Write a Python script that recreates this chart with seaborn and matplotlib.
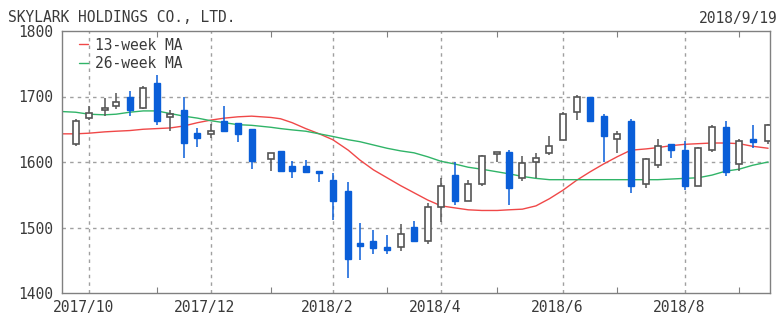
import matplotlib
matplotlib.use("Agg")
import matplotlib.pyplot as plt
import matplotlib.transforms as mtransforms
import numpy as np
import pandas as pd
import seaborn as sns

# ---------------- data ----------------
title = "SKYLARK HOLDINGS CO., LTD."
as_of = "2018/9/19"

# first trading day of each week
week_dates = [
    "2017-09-25", "2017-10-02", "2017-10-10", "2017-10-16", "2017-10-23", "2017-10-30",
    "2017-11-06", "2017-11-13", "2017-11-20", "2017-11-27", "2017-12-04", "2017-12-11",
    "2017-12-18", "2017-12-25", "2018-01-04", "2018-01-09", "2018-01-15", "2018-01-22",
    "2018-01-29", "2018-02-05", "2018-02-13", "2018-02-19", "2018-02-26", "2018-03-05",
    "2018-03-12", "2018-03-19", "2018-03-26", "2018-04-02", "2018-04-09", "2018-04-16",
    "2018-04-23", "2018-05-01", "2018-05-07", "2018-05-14", "2018-05-21", "2018-05-28",
    "2018-06-04", "2018-06-11", "2018-06-18", "2018-06-25", "2018-07-02", "2018-07-09",
    "2018-07-17", "2018-07-23", "2018-07-30", "2018-08-06", "2018-08-13", "2018-08-20",
    "2018-08-27", "2018-09-03", "2018-09-10", "2018-09-18",
]
opens = [1627, 1667, 1680, 1685, 1699, 1682, 1720, 1669, 1679, 1645, 1642, 1662, 1660,
         1651, 1605, 1617, 1594, 1594, 1586, 1573, 1555, 1477, 1480, 1470, 1470, 1500,
         1480, 1531, 1580, 1541, 1567, 1612, 1615, 1575, 1600, 1614, 1634, 1677, 1699,
         1670, 1635, 1662, 1567, 1596, 1628, 1618, 1564, 1618, 1653, 1597, 1635, 1632]
highs = [1666, 1686, 1697, 1706, 1708, 1716, 1733, 1679, 1699, 1652, 1658, 1686, 1660,
         1651, 1614, 1617, 1601, 1603, 1586, 1583, 1569, 1507, 1496, 1489, 1505, 1510,
         1537, 1575, 1600, 1573, 1611, 1616, 1618, 1609, 1614, 1640, 1676, 1703, 1699,
         1673, 1648, 1665, 1606, 1635, 1628, 1632, 1623, 1657, 1663, 1635, 1656, 1658]
lows = [1624, 1664, 1670, 1681, 1670, 1681, 1657, 1648, 1606, 1623, 1636, 1647, 1631,
        1590, 1587, 1587, 1575, 1583, 1569, 1511, 1423, 1451, 1459, 1460, 1464, 1479,
        1475, 1508, 1535, 1540, 1563, 1600, 1535, 1571, 1576, 1610, 1633, 1664, 1661,
        1600, 1613, 1552, 1560, 1591, 1606, 1557, 1563, 1615, 1579, 1586, 1622, 1628]
closes = [1662, 1675, 1682, 1692, 1679, 1713, 1662, 1674, 1629, 1637, 1648, 1647, 1643,
          1601, 1614, 1587, 1586, 1585, 1583, 1540, 1452, 1471, 1469, 1465, 1490, 1480,
          1531, 1563, 1540, 1566, 1609, 1615, 1560, 1598, 1606, 1625, 1673, 1699, 1662,
          1639, 1643, 1563, 1604, 1624, 1618, 1563, 1621, 1653, 1585, 1632, 1631, 1656]

ma_dates = ["2017-09-18"] + week_dates
ma13 = [1643, 1643, 1644, 1646, 1647, 1648, 1650, 1651, 1652, 1655, 1660, 1664, 1667,
        1669, 1670, 1668, 1666, 1660, 1651, 1643, 1634, 1618, 1603, 1588, 1576, 1564,
        1553, 1542, 1533, 1530, 1527, 1526, 1526, 1527, 1528, 1533, 1544, 1557, 1572,
        1585, 1597, 1608, 1618, 1620, 1622, 1625, 1627, 1628, 1629, 1629, 1628, 1624, 1621]
ma26 = [1677, 1676, 1673, 1672, 1673, 1676, 1678, 1678, 1674, 1670, 1667, 1663, 1660,
        1657, 1656, 1653, 1651, 1649, 1647, 1643, 1639, 1634, 1631, 1626, 1621, 1617,
        1614, 1608, 1601, 1597, 1592, 1589, 1585, 1582, 1578, 1575, 1573, 1573, 1573,
        1573, 1573, 1573, 1573, 1573, 1573, 1574, 1575, 1576, 1580, 1586, 1589, 1595, 1600]
ma_names = ["13-week MA", "26-week MA"]

y_ticks = [1400, 1500, 1600, 1700, 1800]
labeled_months = ["2017-10", "2017-12", "2018-02", "2018-04", "2018-06", "2018-08"]
x_range = ["2017-09-18", "2018-09-19"]

# ---------------- styles ----------------
UP_EDGE = "#555555"
DOWN = "#0a5ed8"
RED = "#f04848"
GREEN = "#30b468"
GRID = "#a0a0a0"
FRAME = "#808080"
TXT = "#3a3a3a"

sns.set_theme(style="white")
plt.rcParams["font.family"] = ["DejaVu Sans Mono", "DejaVu Sans"]
FS = 10.5

W, H = 782, 319
fig = plt.figure(figsize=(W / 100, H / 100), dpi=100)
fig.patch.set_facecolor("white")
L, R, T, B = 62, 770, 31, 293
ax = fig.add_axes([L / W, 1 - B / H, (R - L) / W, (B - T) / H])

dates = pd.to_datetime(week_dates)
o = np.array(opens, float)
h = np.array(highs, float)
l = np.array(lows, float)
c = np.array(closes, float)
up = c >= o

# moving averages via seaborn
ma_df = pd.DataFrame({"date": pd.to_datetime(ma_dates), ma_names[0]: ma13, ma_names[1]: ma26})
ma_long = ma_df.melt(id_vars="date", var_name="series", value_name="price")
sns.lineplot(data=ma_long, x="date", y="price", hue="series", hue_order=ma_names,
             palette=[RED, GREEN], linewidth=1.0, ax=ax, zorder=2, legend=True)

# wicks
ax.vlines(dates[up], l[up], h[up], colors=UP_EDGE, linewidth=1.1, zorder=3)
ax.vlines(dates[~up], l[~up], h[~up], colors=DOWN, linewidth=1.1, zorder=3)

# bodies
bw = 3.1
body_lo = np.minimum(o, c)
body_h = np.maximum(np.abs(c - o), 1.0)
ax.bar(dates[up], body_h[up], bottom=body_lo[up], width=bw, facecolor="white",
       edgecolor=UP_EDGE, linewidth=1.2, zorder=4)
ax.bar(dates[~up], body_h[~up], bottom=body_lo[~up], width=bw, facecolor=DOWN,
       edgecolor=DOWN, linewidth=1.0, zorder=4)

# axes limits
ax.set_xlim(pd.to_datetime(x_range[0]), pd.to_datetime(x_range[1]))
ax.set_ylim(y_ticks[0], y_ticks[-1])

# month ticks: first candle of each month
s = pd.Series(dates)
firsts = s.groupby(s.dt.to_period("M")).min()
firsts = firsts[firsts.dt.day <= 7]
major = [d for p, d in firsts.items() if str(p) in labeled_months]
minor = [d for p, d in firsts.items() if str(p) not in labeled_months]
ax.set_xticks(major)
ax.set_xticklabels([f"{d.year}/{d.month}" for d in major])
ax.set_xticks(minor, minor=True)
ax.set_yticks(y_ticks)
ax.set_yticklabels([str(v) for v in y_ticks])
ax.set_xlabel("")
ax.set_ylabel("")

ax.tick_params(axis="x", which="major", length=0, pad=5, labelsize=FS, labelcolor=TXT)
ax.tick_params(axis="x", which="minor", direction="in", length=4, width=0.8,
               color=FRAME, top=True, bottom=True)
ax.tick_params(axis="y", which="major", length=0, pad=6, labelsize=FS, labelcolor=TXT)

off = mtransforms.ScaledTranslation(-0.06, 0, fig.dpi_scale_trans)
for lab in ax.get_xticklabels():
    lab.set_transform(lab.get_transform() + off)

# grid
for yv in y_ticks[1:-1]:
    ax.axhline(yv, color=GRID, linewidth=1, linestyle=(0, (2.5, 3)), zorder=1)
for xv in major:
    ax.axvline(xv, color=GRID, linewidth=1, linestyle=(0, (2.5, 3)), zorder=1)

for sp in ax.spines.values():
    sp.set_visible(True)
    sp.set_color(FRAME)
    sp.set_linewidth(1.0)

# legend
leg = ax.legend(loc="upper left", bbox_to_anchor=(0.024, 0.975), frameon=False,
                fontsize=FS, handlelength=0.6, handletextpad=0.5, labelspacing=0.22,
                borderpad=0, borderaxespad=0)
for t in leg.get_texts():
    t.set_color(TXT)

# header texts
fig.text(8 / W, 1 - 22.5 / H, title, fontsize=FS, color=TXT, ha="left", va="baseline")
fig.text(778 / W, 1 - 22.5 / H, as_of, fontsize=FS, color=TXT, ha="right", va="baseline")

fig.savefig("out.png", dpi=100, facecolor="white")
